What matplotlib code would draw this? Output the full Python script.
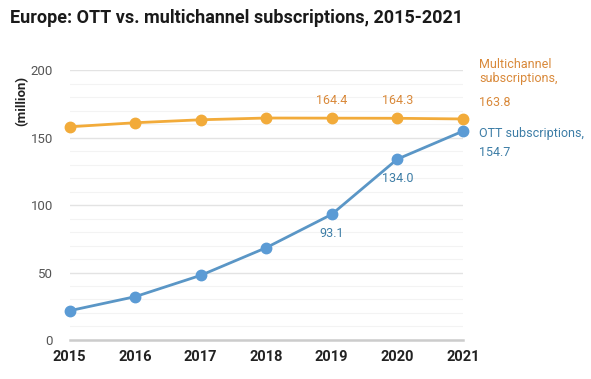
import numpy as np
import matplotlib as mpl
import matplotlib.pyplot as plt
from matplotlib.ticker import MultipleLocator

mpl.rcParams['font.family'] = ['Roboto', 'DejaVu Sans']

# Data
years = [2015, 2016, 2017, 2018, 2019, 2020, 2021]
multichannel = [158.0, 161.0, 163.2, 164.5, 164.4, 164.3, 163.8]
ott = [21.7, 32.1, 47.9, 68.4, 93.1, 134.0, 154.7]
yticks = [0, 50, 100, 150, 200]

orange = "#F2AB3A"
orangeText = "#D9893A"
blue = "#5B9BD5"
blueLine = "#5A96C6"
blueText = "#3D7DA6"

fig = plt.figure(figsize=(5.91, 3.79), dpi=100)
ax = fig.add_axes([0.118, 0.103, 0.665, 0.712])

ax.plot(years, multichannel, color=orange, lw=2, marker="o", ms=7.5,
        clip_on=False, zorder=3)
ax.plot(years, ott, color=blueLine, lw=2, marker="o", ms=7.5,
        markerfacecolor=blue, markeredgecolor=blue, clip_on=False, zorder=3)

ax.set_xlim(2015, 2021)
ax.set_ylim(0, 200)
ax.set_xticks(years)
ax.set_yticks(yticks)
ax.yaxis.set_minor_locator(MultipleLocator(10))

ax.grid(axis="y", which="major", color="#e3e3e3", lw=1)
ax.grid(axis="y", which="minor", color="#f3f3f3", lw=0.8)
ax.set_axisbelow(True)

for s in ["top", "right", "left"]:
    ax.spines[s].set_visible(False)
ax.spines["bottom"].set_color("#cccccc")
ax.spines["bottom"].set_linewidth(1.8)

ax.tick_params(axis="both", which="both", length=0)
ax.tick_params(axis="y", labelsize=9.5, labelcolor="#555555", pad=12)
ax.tick_params(axis="x", labelsize=10.5, labelcolor="#222222", pad=7)
for lbl in ax.get_xticklabels():
    lbl.set_fontweight("bold")

# Point labels
for i in [4, 5]:
    ax.annotate(f"{multichannel[i]:.1f}", (years[i], multichannel[i]),
                xytext=(0, 12.5), textcoords="offset points", ha="center",
                va="center", fontsize=9, color=orangeText)
for i in [4, 5]:
    ax.annotate(f"{ott[i]:.1f}", (years[i], ott[i]),
                xytext=(0, -14), textcoords="offset points", ha="center",
                va="center", fontsize=9, color=blueText)

# Series end labels
ax.annotate("Multichannel\nsubscriptions,", (years[-1], multichannel[-1]),
            xytext=(12, 34), textcoords="offset points", ha="left",
            va="center", fontsize=9, color=orangeText, linespacing=1.1,
            annotation_clip=False)
ax.annotate(f"{multichannel[-1]:.1f}", (years[-1], multichannel[-1]),
            xytext=(12, 11.5), textcoords="offset points", ha="left",
            va="center", fontsize=9, color=orangeText, annotation_clip=False)
ax.annotate(f"OTT subscriptions,\n{ott[-1]:.1f}", (years[-1], ott[-1]),
            xytext=(12, 3), textcoords="offset points", ha="left",
            va="top", fontsize=9, color=blueText, linespacing=1.6,
            annotation_clip=False)

fig.text(0.037, 0.733, "(million)", rotation=90, fontsize=9.5,
         fontweight="bold", color="#222222", ha="center", va="center")

fig.text(0.017, 0.952, "Europe: OTT vs. multichannel subscriptions, 2015-2021",
         fontsize=13, fontweight="bold", color="#1a1a1a", ha="left", va="center")

fig.savefig("out.png", dpi=100)
